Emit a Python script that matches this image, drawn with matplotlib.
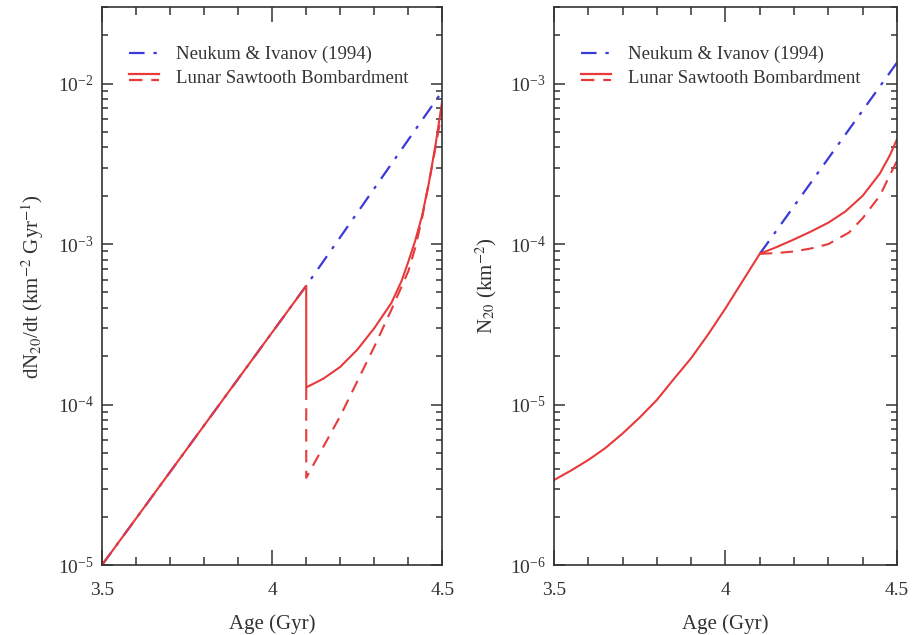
import matplotlib
matplotlib.use("Agg")
import matplotlib.pyplot as plt
from matplotlib.lines import Line2D
from matplotlib.legend_handler import HandlerBase
from matplotlib.ticker import LogLocator, MultipleLocator, NullFormatter

plt.rcParams['font.family'] = ['Liberation Serif', 'DejaVu Serif']
plt.rcParams['mathtext.fontset'] = 'stix'
plt.rcParams['axes.unicode_minus'] = False

# left panel: crater production rate dN20/dt
age_ni_rate = [3.5, 4.1, 4.5]
rate_ni = [1.0e-5, 5.5e-4, 9.0e-3]

age_saw_rate = [3.5, 4.1, 4.1, 4.15, 4.2, 4.25, 4.3, 4.35, 4.38, 4.4, 4.42, 4.44, 4.46, 4.48, 4.5]
rate_saw = [1.0e-5, 5.5e-4, 1.28e-4, 1.45e-4, 1.72e-4, 2.2e-4, 3.0e-4, 4.3e-4, 5.9e-4,
            7.8e-4, 1.05e-3, 1.5e-3, 2.4e-3, 4.2e-3, 8.0e-3]

age_saw2_rate = [4.1, 4.1, 4.2, 4.3, 4.35, 4.4, 4.42, 4.44, 4.47, 4.5]
rate_saw2 = [1.28e-4, 3.5e-5, 8.5e-5, 2.3e-4, 3.9e-4, 6.8e-4, 9.5e-4, 1.45e-3, 3.1e-3, 7.0e-3]

# right panel: cumulative density N20
age_ni_cum = [4.1, 4.5]
cum_ni = [8.7e-5, 1.35e-3]

age_saw_cum = [3.5, 3.55, 3.6, 3.65, 3.7, 3.75, 3.8, 3.85, 3.9, 3.95, 4.0, 4.05, 4.1,
               4.15, 4.2, 4.25, 4.3, 4.35, 4.4, 4.45, 4.48, 4.5]
cum_saw = [3.39e-6, 3.89e-6, 4.52e-6, 5.37e-6, 6.61e-6, 8.32e-6, 1.07e-5, 1.45e-5,
           1.95e-5, 2.75e-5, 3.98e-5, 5.89e-5, 8.71e-5,
           9.6e-5, 1.07e-4, 1.2e-4, 1.36e-4, 1.6e-4, 2.0e-4, 2.75e-4, 3.6e-4, 4.5e-4]

age_saw2_cum = [4.1, 4.15, 4.2, 4.25, 4.3, 4.36, 4.4, 4.42, 4.45, 4.47, 4.5]
cum_saw2 = [8.7e-5, 8.8e-5, 9.0e-5, 9.4e-5, 1.0e-4, 1.18e-4, 1.45e-4, 1.65e-4, 2.0e-4, 2.45e-4, 3.3e-4]

red = '#e8393b'
blue = '#3a3ad8'
dashdot = (0, (7, 4, 1.5, 4))
dashed = (0, (6, 4))


class HandlerStack(HandlerBase):
    # solid line above dashed line, as in the original legend
    def create_artists(self, legend, orig_handle, xdescent, ydescent,
                       width, height, fontsize, trans):
        y0 = height / 2
        a = Line2D([-xdescent, width - xdescent], [y0 + 2.2, y0 + 2.2],
                   color=red, lw=1.6, transform=trans)
        b = Line2D([-xdescent, width - xdescent], [y0 - 2.2, y0 - 2.2],
                   color=red, lw=1.6, ls=dashed, transform=trans)
        return [a, b]


fig = plt.figure(figsize=(9.18, 6.35), dpi=100)
ax1 = fig.add_axes([0.111, 0.110, 0.371, 0.879])
ax2 = fig.add_axes([0.6035, 0.110, 0.3736, 0.879])

ax1.plot(age_ni_rate, rate_ni, color=blue, lw=1.6, ls=dashdot)
ax1.plot(age_saw2_rate, rate_saw2, color=red, lw=1.5, ls=dashed)
ax1.plot(age_saw_rate, rate_saw, color=red, lw=1.5)

ax2.plot(age_ni_cum, cum_ni, color=blue, lw=1.6, ls=dashdot)
ax2.plot(age_saw2_cum, cum_saw2, color=red, lw=1.5, ls=dashed)
ax2.plot(age_saw_cum, cum_saw, color=red, lw=1.5)

for ax, ylo, yhi, ylab in [(ax1, 1e-5, 3e-2, r'dN$_{20}$/dt (km$^{-2}$ Gyr$^{-1}$)'),
                           (ax2, 1e-6, 3e-3, r'N$_{20}$ (km$^{-2}$)')]:
    ax.set_yscale('log')
    ax.set_xlim(3.5, 4.5)
    ax.set_ylim(ylo, yhi)
    ax.xaxis.set_major_locator(MultipleLocator(0.5))
    ax.xaxis.set_minor_locator(MultipleLocator(0.1))
    ax.set_xticks([3.5, 4.0, 4.5])
    ax.set_xticklabels(['3.5', '4', '4.5'])
    ax.yaxis.set_major_locator(LogLocator(base=10, numticks=20))
    ax.yaxis.set_minor_locator(LogLocator(base=10, subs=range(2, 10), numticks=20))
    ax.yaxis.set_minor_formatter(NullFormatter())
    ax.tick_params(which='both', direction='in', top=True, right=True,
                   labelsize=14, width=1.1, colors='#333333', pad=6)
    ax.tick_params(axis='x', which='major', length=11, pad=12)
    ax.tick_params(axis='x', which='minor', length=5.5)
    ax.tick_params(axis='y', which='major', length=8)
    ax.tick_params(axis='y', which='minor', length=4.5)
    for s in ax.spines.values():
        s.set_linewidth(1.2)
        s.set_color('#333333')
    ax.set_xlabel('Age (Gyr)', fontsize=15, color='#333333', labelpad=11)
    ax.set_ylabel(ylab, fontsize=15, color='#333333', labelpad=8)

    h1 = Line2D([], [], color=blue, lw=1.6, ls=dashdot)
    h2 = Line2D([], [], color=red)
    ax.legend([h1, h2], ['Neukum & Ivanov (1994)', 'Lunar Sawtooth Bombardment'],
              handler_map={h2: HandlerStack()}, loc='upper left',
              bbox_to_anchor=(0.03, 0.96), frameon=False, fontsize=13.5,
              handlelength=1.6, labelspacing=0.35, handletextpad=0.9,
              labelcolor='#333333')

fig.savefig('out.png', dpi=100)
